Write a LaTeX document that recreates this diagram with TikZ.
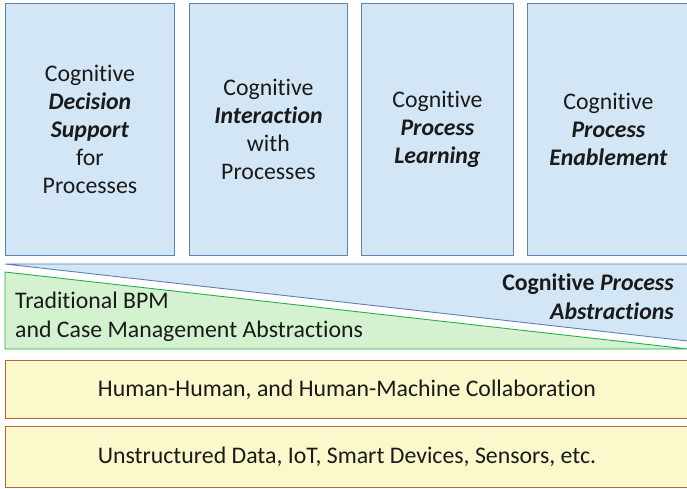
\documentclass[tikz,border=0pt]{standalone}
\usepackage{fontspec}
\setmainfont{Carlito}[Ligatures=NoCommon]
\definecolor{bfill}{HTML}{D2E6F5}
\definecolor{bline}{HTML}{5A82B4}
\definecolor{gfill}{HTML}{D4F2CF}
\definecolor{gline}{HTML}{22B04B}
\definecolor{yfill}{HTML}{FBF8CB}
\definecolor{yline}{HTML}{C0622F}
\definecolor{txt}{HTML}{1A1A1A}
\tikzset{
  topbox/.style={draw=bline, fill=bfill, line width=0.9pt, anchor=north west, inner sep=0pt, minimum height=252pt, align=center, text=txt, font=\fontsize{23.8}{28}\selectfont},
  ybox/.style={draw=yline, fill=yfill, line width=0.9pt, anchor=north west, inner sep=0pt, minimum width=683pt, text=txt, font=\fontsize{23.8}{28}\selectfont},
  lbl/.style={text=txt, inner sep=0pt, font=\fontsize{23.8}{29}\selectfont}
}
\begin{document}
\begin{tikzpicture}[x=1pt,y=-1pt]
\useasboundingbox (0,0) rectangle (687,488);
\node[topbox, minimum width=169pt] (b1) at (5,3) {Cognitive\\\textbf{\textit{Decision}}\\\textbf{\textit{Support}}\\for\\Processes};
\node[topbox, minimum width=158pt] (b2) at (189,3) {Cognitive\\\textbf{\textit{Interaction}}\\with\\Processes};
\node[topbox, minimum width=152pt] (b3) at (361,3) {Cognitive\\\textbf{\textit{Process}}\\\textbf{\textit{Learning}}};
\node[topbox, minimum width=162pt] (b4) at (527,3) {Cognitive\\\textbf{\textit{Process}}\\\textbf{\textit{Enablement}}};
% cognitive abstractions triangle
\draw[draw=bline, fill=bfill, line width=0.9pt] (5,264) -- (688,264) -- (688,341) -- cycle;
% traditional triangle
\draw[draw=gline, fill=gfill, line width=0.9pt] (5,272) -- (688,349) -- (5,349) -- cycle;
\node[lbl, anchor=east, align=right] (cpa) at (674,297) {\textbf{Cognitive \textit{Process}}\\\textbf{\textit{Abstractions}}};
\node[lbl, anchor=west, align=left] (tbpm) at (15,317) {Traditional BPM\\and Case Management Abstractions};
\node[ybox, minimum height=58pt] (y1) at (5,360) {\raisebox{-3pt}{Human-Human, and Human-Machine Collaboration}};
\node[ybox, minimum height=61pt] (y2) at (5,426) {\raisebox{-6pt}{Unstructured Data, IoT, Smart Devices, Sensors, etc.}};
\end{tikzpicture}
\end{document}
